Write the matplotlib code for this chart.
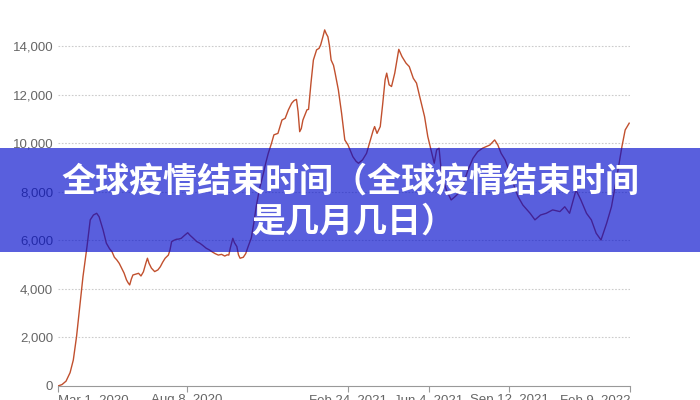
import matplotlib
matplotlib.use("Agg")
import matplotlib.pyplot as plt
import pandas as pd

# 每日死亡人数（7日平均），从 2020-03-01 起的天数
start_date = "2020-03-01"
day_offsets = [
    0, 5, 10, 15, 19, 23, 27, 31, 36, 40, 44, 48, 51, 56, 60, 64, 67, 70, 73, 76,
    79, 82, 85, 87, 89, 91, 93, 96, 100, 103, 106, 109, 111, 113, 116, 120, 124, 127,
    130, 133, 137, 139, 141, 144, 147, 150, 153, 157, 161, 164, 168, 172, 176, 180,
    184, 188, 191, 195, 199, 203, 207, 210, 212, 214, 217, 219, 222, 224, 226, 230,
    233, 236, 240, 243, 246, 250, 255, 258, 261, 265, 268, 273, 278, 282, 286, 290,
    293, 296, 298, 300, 302, 304, 309, 311, 314, 317, 321, 324, 326, 329, 331, 333,
    335, 337, 339, 342, 344, 348, 352, 356, 360, 366, 370, 373, 378, 383, 389, 391,
    393, 396, 400, 403, 406, 408, 411, 414, 418, 423, 427, 432, 436, 441, 445, 449,
    455, 459, 464, 467, 470, 473, 476, 482, 488, 493, 497, 502, 509, 515, 521, 527,
    536, 542, 546, 550, 555, 561, 565, 571, 577, 586, 592, 599, 606, 614, 623, 629,
    635, 643, 649, 656, 662, 668, 674, 681, 687, 693, 700, 704, 709,
]
deaths = [
    0, 60, 200, 550, 1070, 2030, 3270, 4500, 5740, 6840, 7040, 7110, 6970, 6420, 5880,
    5650, 5530, 5300, 5190, 5050, 4850, 4650, 4370, 4250, 4160, 4400, 4570, 4600, 4640,
    4530, 4700, 5050, 5260, 5050, 4850, 4710, 4780, 4910, 5100, 5260, 5390, 5600, 5940,
    6000, 6040, 6050, 6080, 6200, 6310, 6200, 6080, 5950, 5880, 5780, 5670, 5600, 5530,
    5450, 5390, 5420, 5350, 5400, 5390, 5700, 6080, 5900, 5740, 5400, 5260, 5300, 5450,
    5740, 6100, 6700, 7380, 8100, 8760, 9200, 9580, 9990, 10340, 10400, 10950, 11020,
    11370, 11640, 11750, 11800, 11300, 10470, 10600, 10950, 11370, 11390, 12470, 13420,
    13840, 13900, 14040, 14400, 14660, 14500, 14380, 14000, 13420, 13200, 12880, 12190,
    11230, 10130, 9920, 9440, 9250, 9170, 9310, 9580, 10270, 10500, 10680, 10400, 10680,
    11600, 12600, 12880, 12400, 12330, 12880, 13860, 13560, 13290, 13150, 12670, 12470,
    11910, 11090, 10270, 9580, 9170, 9720, 9790, 8760, 8070, 7660, 7800, 7930, 8210,
    8900, 9370, 9650, 9790, 9920, 10130, 9920, 9580, 9310, 8760, 8350, 7800, 7450, 7110,
    6840, 7040, 7110, 7250, 7180, 7380, 7110, 8070, 7660, 7110, 6840, 6290, 6010, 6700,
    7380, 8480, 9860, 10540, 10820,
]

tick_dates = ["2020-03-01", "2020-08-08", "2021-02-24", "2021-06-04", "2021-09-12", "2022-02-09"]
tick_labels = ["Mar 1, 2020", "Aug 8, 2020", "Feb 24, 2021", "Jun 4, 2021", "Sep 12, 2021", "Feb 9, 2022"]
y_ticks = [0, 2000, 4000, 6000, 8000, 10000, 12000, 14000]

title_lines = ["全球疫情结束时间（全球疫情结束时间", "是几月几日）"]

dates = pd.Timestamp(start_date) + pd.to_timedelta(day_offsets, unit="D")

fig = plt.figure(figsize=(7, 4), dpi=100)
ax = fig.add_axes([58 / 700, 14 / 400, 572 / 700, 376.5 / 400])

ax.plot(dates, deaths, color="#c1502e", lw=1.0, zorder=3)

ax.set_xlim(pd.Timestamp(tick_dates[0]), pd.Timestamp(tick_dates[-1]))
ax.set_ylim(0, 15500)

# 网格线和坐标轴
ax.set_yticks(y_ticks)
ax.set_yticklabels([f"{v:,}" for v in y_ticks], fontsize=9.5,
                   color="#666666", family="Liberation Sans")
for v in y_ticks[1:]:
    ax.axhline(v, color="#cccccc", lw=0.8, ls=(0, (1.5, 1.5)), zorder=1)
ax.tick_params(axis="y", length=0, pad=3.5)

ax.set_xticks(pd.to_datetime(tick_dates))
ax.set_xticklabels(tick_labels, fontsize=9.5, color="#666666", family="Liberation Sans")
ax.tick_params(axis="x", length=4.5, width=0.8, color="#999999", pad=1.5)
labels = ax.get_xticklabels()
labels[0].set_ha("left")
labels[-1].set_ha("right")

for side in ["top", "right", "left"]:
    ax.spines[side].set_visible(False)
ax.spines["bottom"].set_color("#999999")
ax.spines["bottom"].set_linewidth(0.8)

# 半透明标题横幅
banner = plt.Rectangle((0, 1 - 252 / 400), 1, 104 / 400, transform=fig.transFigure,
                       facecolor=(0.0, 0.04, 0.80), alpha=0.65, zorder=10)
fig.patches.append(banner)

fig.text(0.5, 1 - 181 / 400, title_lines[0], ha="center", va="center", fontsize=24.5,
         color="white", fontweight=900, family=["Noto Sans CJK SC", "DejaVu Sans"], zorder=11)
fig.text(0.504, 1 - 221 / 400, title_lines[1], ha="center", va="center", fontsize=24.5,
         color="white", fontweight=900, family=["Noto Sans CJK SC", "DejaVu Sans"], zorder=11)

fig.savefig("out.png", dpi=100)
